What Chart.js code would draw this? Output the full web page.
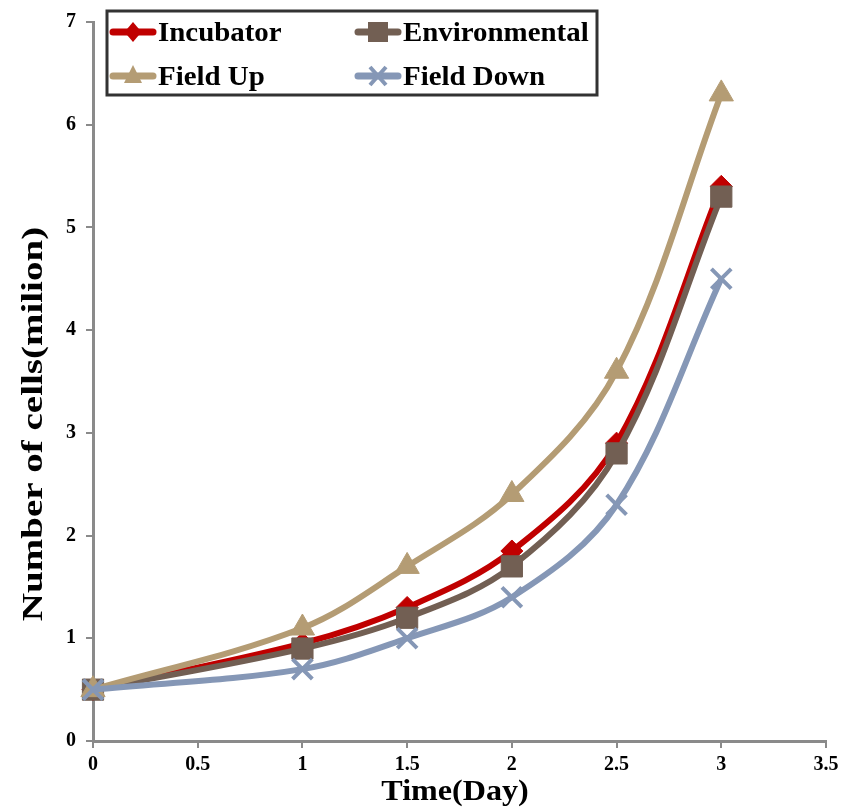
<!DOCTYPE html>
<html>
<head>
<meta charset="utf-8">
<script src="https://cdn.jsdelivr.net/npm/chart.js@4/dist/chart.umd.min.js"></script>
<style>
  html, body { margin: 0; padding: 0; background: #fff; }
  #wrap { width: 844px; height: 809px; position: relative; }
</style>
</head>
<body>
<div id="wrap"><canvas id="c" width="844" height="809"></canvas></div>
<script>
// ---- data ----
const timeDays      = [0, 1, 1.5, 2, 2.5, 3];
const incubator     = [0.5, 0.95, 1.3, 1.85, 2.9, 5.4];
const environmental = [0.5, 0.9, 1.2, 1.7, 2.8, 5.3];
const fieldUp       = [0.5, 1.1, 1.7, 2.4, 3.6, 6.3];
const fieldDown     = [0.5, 0.7, 1.0, 1.4, 2.3, 4.5];
const seriesNames   = ['Incubator', 'Environmental', 'Field Up', 'Field Down'];
const xTicks = [0, 0.5, 1, 1.5, 2, 2.5, 3, 3.5];
const yTicks = [0, 1, 2, 3, 4, 5, 6, 7];
const xTitle = 'Time(Day)';
const yTitle = 'Number of cells(milion)';

const colors = ['#C00000', '#725F53', '#B49C74', '#8597B6'];
const styles = ['rectRot', 'rect', 'triangle', 'crossRot'];
const radii  = [11, 15, 14, 14];
const allSeries = [incubator, environmental, fieldUp, fieldDown];

const pts = arr => timeDays.map((t, i) => ({x: t, y: arr[i]}));

const SERIF = "'Liberation Serif', 'Times New Roman', serif";

const datasets = allSeries.map((arr, i) => ({
  label: seriesNames[i],
  data: pts(arr),
  borderColor: colors[i],
  backgroundColor: colors[i],
  borderWidth: 6,
  tension: 0.35,
  pointStyle: styles[i],
  pointRadius: radii[i],
  pointHoverRadius: radii[i],
  pointBorderWidth: styles[i] === 'crossRot' ? 4 : 1,
  pointBorderColor: colors[i],
  pointBackgroundColor: colors[i],
  order: 4 - i,
  clip: false
}));

function stretchedText(ctx, text, x, y, sx, rot, font, align) {
  ctx.save();
  ctx.translate(x, y);
  if (rot) ctx.rotate(rot);
  ctx.scale(sx, 1);
  ctx.font = font;
  ctx.fillStyle = '#000';
  ctx.textAlign = align;
  ctx.textBaseline = 'alphabetic';
  ctx.fillText(text, 0, 0);
  ctx.restore();
}

const decorPlugin = {
  id: 'decor',
  afterDraw(chart) {
    const ctx = chart.ctx;
    // axis titles
    stretchedText(ctx, xTitle, 455, 800, 1.07, 0, 'bold 30px ' + SERIF, 'center');
    stretchedText(ctx, yTitle, 42, 424, 1.3, -Math.PI / 2, 'bold 30px ' + SERIF, 'center');
    // legend box
    ctx.save();
    ctx.fillStyle = '#ffffff';
    ctx.strokeStyle = '#333333';
    ctx.lineWidth = 3;
    ctx.fillRect(107, 11, 490, 84);
    ctx.strokeRect(107, 11, 490, 84);
    const items = [
      {x: 110, y: 32}, {x: 355, y: 32},
      {x: 110, y: 76}, {x: 355, y: 76}
    ];
    items.forEach((it, i) => {
      const c = colors[i];
      ctx.strokeStyle = c;
      ctx.fillStyle = c;
      ctx.lineWidth = 7;
      ctx.lineCap = 'round';
      ctx.beginPath();
      ctx.moveTo(it.x + 3, it.y);
      ctx.lineTo(it.x + 43, it.y);
      ctx.stroke();
      const cx = it.x + 23, cy = it.y;
      ctx.beginPath();
      if (styles[i] === 'rectRot') {
        ctx.moveTo(cx, cy - 10); ctx.lineTo(cx + 8.5, cy); ctx.lineTo(cx, cy + 10); ctx.lineTo(cx - 8.5, cy); ctx.closePath(); ctx.fill();
      } else if (styles[i] === 'rect') {
        ctx.fillRect(cx - 10, cy - 10, 20, 20);
      } else if (styles[i] === 'triangle') {
        ctx.moveTo(cx, cy - 11); ctx.lineTo(cx + 9, cy + 7); ctx.lineTo(cx - 9, cy + 7); ctx.closePath(); ctx.fill();
      } else {
        ctx.lineWidth = 4; ctx.lineCap = 'butt';
        ctx.moveTo(cx - 8, cy - 9); ctx.lineTo(cx + 8, cy + 9);
        ctx.moveTo(cx + 8, cy - 9); ctx.lineTo(cx - 8, cy + 9);
        ctx.stroke();
      }
      stretchedText(ctx, seriesNames[i], it.x + 48, it.y + 9, 1.07, 0, 'bold 27px ' + SERIF, 'left');
    });
    ctx.restore();
  }
};

new Chart(document.getElementById('c'), {
  type: 'line',
  data: { datasets },
  plugins: [decorPlugin],
  options: {
    responsive: false,
    animation: false,
    events: [],
    layout: { padding: { top: 21, right: 18, left: 0, bottom: 0 } },
    plugins: { legend: { display: false }, tooltip: { enabled: false } },
    scales: {
      x: {
        type: 'linear',
        min: 0, max: 3.5,
        afterBuildTicks: s => { s.ticks = xTicks.map(v => ({value: v})); },
        afterFit: s => { s.height = 68; },
        grid: { drawOnChartArea: false, color: '#8a8a8a', tickLength: 7, lineWidth: 2 },
        border: { color: '#8a8a8a', width: 3 },
        ticks: { color: '#000', font: { family: SERIF, size: 20, weight: 'bold' }, padding: 5, maxRotation: 0,
                 callback: v => String(v) },
        title: { display: false }
      },
      y: {
        type: 'linear',
        min: 0, max: 7,
        afterBuildTicks: s => { s.ticks = yTicks.map(v => ({value: v})); },
        afterFit: s => { s.width = 93; },
        grid: { drawOnChartArea: false, color: '#8a8a8a', tickLength: 7, lineWidth: 2 },
        border: { color: '#8a8a8a', width: 3 },
        ticks: { color: '#000', font: { family: SERIF, size: 20, weight: 'bold' }, padding: 10,
                 callback: v => String(v) },
        title: { display: false }
      }
    }
  }
});
</script>
</body>
</html>
